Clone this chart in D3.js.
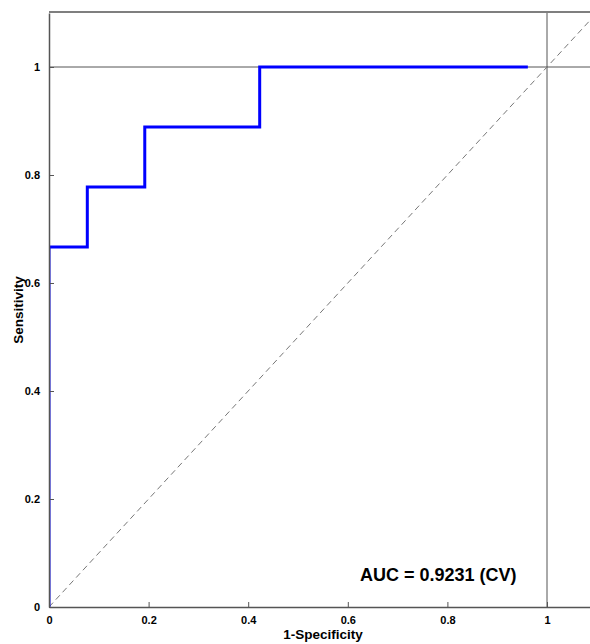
<!DOCTYPE html>
<html><head><meta charset="utf-8">
<script src="https://cdn.jsdelivr.net/npm/d3@7"></script>
<style>body{margin:0;background:#fff}svg{display:block}</style>
</head><body>
<svg id="c" width="590" height="644"></svg>
<script>
const rocFpr = [0, 0, 1/13, 1/13, 5/26, 5/26, 11/26, 11/26, 25/26];
const rocTpr = [0, 2/3, 2/3, 7/9, 7/9, 8/9, 8/9, 1, 1];
const xTicks = [0, 0.2, 0.4, 0.6, 0.8, 1];
const yTicks = [0, 0.2, 0.4, 0.6, 0.8, 1];
const xLabel = "1-Specificity";
const yLabel = "Sensitivity";
const aucText = "AUC = 0.9231 (CV)";

const svg = d3.select("#c");
const L = 49, T = 12, B = 607;
const x = d3.scaleLinear().domain([0, 1.1]).range([L, L + 1.1 * 498]);
const y = d3.scaleLinear().domain([0, 1.1]).range([B, B - 1.1 * 540]);
const axisColor = "#555";
const font = "Arial, 'Liberation Sans', sans-serif";

svg.append("defs").append("clipPath").attr("id", "clip")
  .append("rect").attr("x", L).attr("y", T).attr("width", 600).attr("height", B - T);

const g = svg.append("g").attr("clip-path", "url(#clip)");

// reference lines at 1
g.append("line").attr("x1", x(0)).attr("x2", x(1.1)).attr("y1", y(1)).attr("y2", y(1))
  .attr("stroke", axisColor).attr("stroke-width", 1);
g.append("line").attr("x1", x(1)).attr("x2", x(1)).attr("y1", y(0)).attr("y2", y(1.1))
  .attr("stroke", axisColor).attr("stroke-width", 1);

// diagonal
g.append("line").attr("x1", x(0)).attr("y1", y(0)).attr("x2", x(1.1)).attr("y2", y(1.1))
  .attr("stroke", "#777").attr("stroke-width", 1).attr("stroke-dasharray", "6,4");

// ROC
const pts = rocFpr.map((f, i) => [f, rocTpr[i]]);
g.append("path").datum(pts)
  .attr("d", d3.line().x(d => x(d[0])).y(d => y(d[1])))
  .attr("fill", "none").attr("stroke", "#0000ff").attr("stroke-width", 3);

// axes
const xAxis = d3.axisBottom(x).tickValues(xTicks).tickSizeInner(-5).tickSizeOuter(0)
  .tickPadding(9).tickFormat(d => d3.format("~g")(d));
const xa = svg.append("g").attr("transform", `translate(0,${B})`).call(xAxis);
const yAxis = d3.axisLeft(y).tickValues(yTicks).tickSizeInner(-5).tickSizeOuter(0)
  .tickPadding(9).tickFormat(d => d3.format("~g")(d));
const ya = svg.append("g").attr("transform", `translate(${L},0)`).call(yAxis);
[xa, ya].forEach(a => {
  a.select(".domain").attr("stroke", axisColor).attr("stroke-width", 1.5);
  a.selectAll(".tick line").attr("stroke", axisColor);
  a.selectAll(".tick text").attr("fill", "#000").style("font-family", font)
    .style("font-size", "11px").style("font-weight", "bold");
});
// top border
svg.append("line").attr("x1", L).attr("x2", 590).attr("y1", T).attr("y2", T)
  .attr("stroke", axisColor).attr("stroke-width", 1.5);

// labels
svg.append("text").attr("x", 323).attr("y", 639).attr("text-anchor", "middle")
  .style("font-family", font).style("font-size", "13.5px").style("font-weight", "bold").text(xLabel);
svg.append("text").attr("transform", `translate(23,310) rotate(-90)`)
  .attr("text-anchor", "middle")
  .style("font-family", font).style("font-size", "13.5px").style("font-weight", "bold").text(yLabel);
svg.append("text").attr("x", 360).attr("y", 581)
  .style("font-family", font).style("font-size", "18px").style("font-weight", "bold").text(aucText);
</script>
</body></html>
